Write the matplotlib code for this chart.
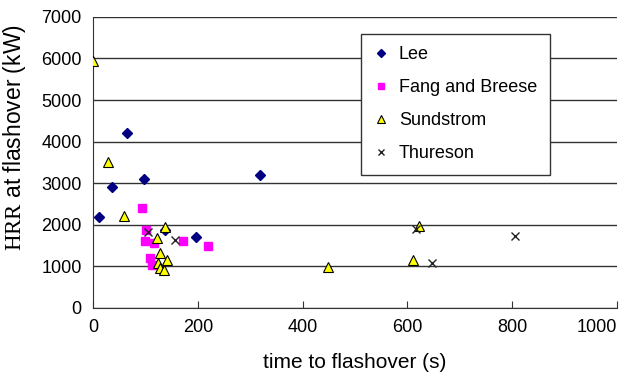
import matplotlib.pyplot as plt

# data
lee_t = [12, 36, 65, 97, 137, 197, 318]
lee_hrr = [2180, 2900, 4200, 3100, 1870, 1700, 3200]

fang_t = [94, 101, 99, 117, 172, 220, 109, 112]
fang_hrr = [2410, 1870, 1620, 1560, 1620, 1480, 1200, 1040]

sund_t = [0, 29, 60, 137, 122, 127, 142, 124, 128, 135, 448, 610, 622]
sund_hrr = [5950, 3500, 2200, 1950, 1680, 1320, 1150, 1070, 970, 920, 980, 1150, 1970]

thur_t = [105, 156, 616, 646, 805]
thur_hrr = [1820, 1640, 1900, 1070, 1720]

plt.rcParams['font.family'] = ['Liberation Sans', 'DejaVu Sans']
plt.rcParams['mathtext.fontset'] = 'custom'
plt.rcParams['mathtext.rm'] = 'Liberation Serif'

fig = plt.figure(figsize=(6.24, 3.76), dpi=100)
ax = fig.add_axes([0.149, 0.181, 0.840, 0.774])

ax.plot(lee_t, lee_hrr, linestyle='none', marker='D', markersize=5,
        color='#000080', label='Lee', zorder=3)
ax.plot(fang_t, fang_hrr, linestyle='none', marker='s', markersize=6,
        color='#FF00FF', label='Fang and Breese', zorder=3)
ax.plot(sund_t, sund_hrr, linestyle='none', marker='^', markersize=7,
        markerfacecolor='#FFFF00', markeredgecolor='black', markeredgewidth=0.8,
        label='Sundstrom', zorder=4)
ax.plot(thur_t, thur_hrr, linestyle='none', marker='x', markersize=6,
        color='#222222', markeredgewidth=1.0, label='Thureson', zorder=4)

ax.set_xlim(0, 1000)
ax.set_ylim(0, 7000)
ax.set_xticks(range(0, 1001, 200))
ax.set_yticks(range(0, 7001, 1000))
ax.yaxis.grid(True, color='#333333', linewidth=1.0)
ax.set_axisbelow(True)

for side in ['top', 'right']:
    ax.spines[side].set_visible(False)
for side in ['left', 'bottom']:
    ax.spines[side].set_color('#333333')

ax.tick_params(axis='x', direction='in', length=5, labelsize=13, pad=8, color='#333333')
ax.tick_params(axis='y', length=0, labelsize=13, pad=8)
# last label is pushed inside the figure, as in the original
ax.get_xticklabels()[-1].set_horizontalalignment('right')

ax.set_xlabel('time to flashover (s)', fontsize=15, labelpad=12)
ax.set_ylabel(r'$\mathrm{HRR}$ at flashover (kW)', fontsize=16.5)
ax.yaxis.set_label_coords(-0.124, 0.586)

leg = ax.legend(loc='upper left', bbox_to_anchor=(0.511, 0.942), fontsize=13,
                fancybox=False, framealpha=1, edgecolor='#333333',
                labelspacing=0.88, handlelength=0.8, handletextpad=0.6,
                borderpad=0.7, borderaxespad=0, markerscale=0.8)
leg.get_frame().set_linewidth(1.0)

fig.savefig('out.png', dpi=100)
